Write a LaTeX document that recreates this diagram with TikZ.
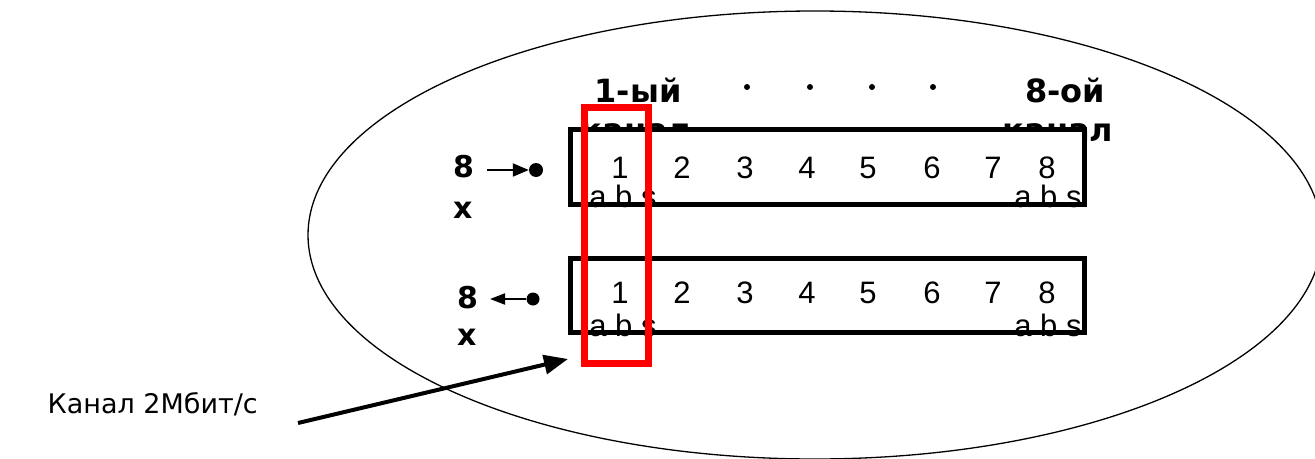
\documentclass[tikz,border=0pt]{standalone}
\usepackage{fontspec}
\newfontfamily\vfont{DejaVu Sans}
\newfontfamily\afont{Liberation Sans}
\usetikzlibrary{arrows.meta}

\begin{document}
\begin{tikzpicture}[x=1pt, y=-1pt,
chbox/.style={rectangle, draw=black, line width=5pt, fill=white, minimum width=514pt, minimum height=75pt, inner sep=0pt},
selbox/.style={rectangle, draw=red, line width=7pt, minimum width=64pt, minimum height=256pt, inner sep=0pt},
numnode/.style={font=\afont\fontsize{31}{31}\selectfont, inner sep=0pt, anchor=base},
bnode/.style={font=\vfont\bfseries\fontsize{30}{30}\selectfont, inner sep=0pt, anchor=base west},
tnode/.style={font=\vfont\bfseries\fontsize{32}{32}\selectfont, inner sep=0pt, anchor=base},
dotnode/.style={circle, fill=black, inner sep=0pt, minimum size=14pt},
smalldot/.style={circle, fill=black, inner sep=0pt, minimum size=6pt},
]
\useasboundingbox (0,0) rectangle (1315,458);
\draw[line width=1.3pt] (815,235) ellipse [x radius=507, y radius=224];

%Nodes
\node[tnode] (t1)  at (638,102) {1-ый};
\node[tnode] (t1b) at (636,141) {канал};
\node[tnode] (t8)  at (1065,102) {8-ой};
\node[tnode] (t8b) at (1058,141) {канал};
\foreach \x [count=\i] in {747,810,872,933}
  \node[smalldot] (p\i) at (\x,87) {};

\node[chbox]                        (upper) at (827.5,167) {};
\node[chbox, minimum height=74pt]   (lower) at (827,295.5) {};
\foreach \n/\x in {1/620,2/682,3/745,4/807,5/868,6/932,7/993,8/1047} {
  \node[numnode] (u\n) at (\x,178) {\n};
  \node[numnode] (l\n) at (\x,303) {\n};
}
\node[numnode] (ua1) at (623,207)  {a b s};
\node[numnode] (ua8) at (1048,207) {a b s};
\node[numnode] (la1) at (623,336)  {a b s};
\node[numnode] (la8) at (1048,336) {a b s};

\node[bnode] (n1) at (453,177) {8};
\node[bnode] (x1) at (453,218) {x};
\node[bnode] (n2) at (457,308) {8};
\node[bnode] (x2) at (457,345) {x};
\node[dotnode]                    (d1) at (536,170) {};
\node[dotnode, minimum size=13pt] (d2) at (533,299) {};
\coordinate (in1)  at (487,170);
\coordinate (out2) at (490,299);

\node[selbox] (sel) at (616,235) {};

\node[font=\vfont\fontsize{27}{27}\selectfont, anchor=base east, inner sep=0pt] (lbl) at (258,413) {Канал 2Мбит/с};
\coordinate (tail) at (298,423);
\coordinate (head) at (568,359);

%Lines
\draw[line width=2pt, -{Triangle[length=16pt,width=13pt]}] (in1) -- (d1);
\draw[line width=2pt, -{Triangle[length=15pt,width=11pt]}] (d2) -- (out2);
\draw[line width=4pt, -{Triangle[length=24pt,width=19pt]}] (tail) -- (head);
\end{tikzpicture}
\end{document}
